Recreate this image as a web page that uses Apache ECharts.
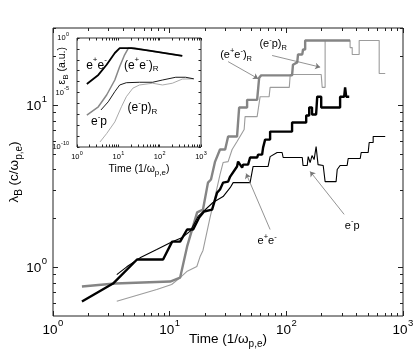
<!DOCTYPE html>
<html>
<head>
<meta charset="utf-8">
<script src="https://cdn.jsdelivr.net/npm/echarts@6/dist/echarts.min.js"></script>
<style>
  html, body { margin: 0; padding: 0; background: #fff; }
  #main { width: 415px; height: 355px; }
</style>
</head>
<body>
<div id="main"></div>
<script>
const F = "'Liberation Sans', Arial, Helvetica, sans-serif";

// main panel: lambda_B (c/w_pe) against time (1/w_pe)
const eeMain = [[1.77,0.614],[3.27,0.793],[5.25,1.116],[8.78,1.116],[10.5,1.44],[12.3,1.44],[14.1,1.71],[15.9,1.71],[17.9,2.03],[19.7,2.21],[23.1,2.27],[25.5,2.89],[27.0,3.02],[28.7,3.33],[31.7,3.38],[33.0,3.63],[37.8,4.19],[38.6,4.49],[41.8,4.12],[42.6,4.30],[47.0,4.30],[48.9,4.76],[56.2,4.76],[57.3,4.96],[62.0,4.96],[63.2,5.48],[65.8,6.14],[72.6,6.14],[72.6,6.88],[112,6.88],[112,7.82],[148,7.82],[148,8.64],[157,8.64],[157,9.68],[166,9.68],[166,8.77],[180,8.77],[184,11.3],[199,11.3],[199,9.68],[289,9.68],[289,11.3],[313,11.3],[319,12.9],[326,11.3],[346,11.3]];
const epMain = [[3.52,0.901],[4.29,1.006],[5.57,1.143],[7.75,1.285],[10.4,1.43],[12.7,1.52],[15.0,1.67],[17.5,2.06],[23.5,2.51],[28.7,2.73],[33.0,3.10],[35.0,3.33],[48.9,3.33],[51.9,4.19],[69.8,4.19],[72.6,4.82],[83.4,5.11],[92.0,5.11],[93.9,4.76],[137,4.76],[139,4.25],[151,4.25],[154,4.82],[160,4.43],[166,4.89],[173,4.62],[180,5.56],[187,4.30],[207,4.25],[215,3.38],[267,3.38],[273,4.01],[289,4.25],[332,4.25],[339,4.69],[430,4.69],[438,5.11],[503,5.11],[513,5.89],[555,5.89],[555,6.41],[704,6.41]];
const eeRMain = [[1.77,0.760],[3.40,0.793],[10.1,0.816],[12.3,0.863],[14.1,1.34],[17.2,2.18],[19.3,2.27],[21.3,3.33],[22.6,3.48],[24.5,4.49],[27.0,5.33],[29.9,5.33],[31.7,6.41],[37.8,6.41],[39.4,9.68],[46.1,9.68],[46.1,10.8],[56.2,10.8],[58.5,14.8],[60.8,15.3],[112,15.3],[114,17.8],[124,18.4],[126,20.6],[137,20.6],[139,22.1],[145,22.1],[145,25.1],[352,25.1]];
const epRMain = [[3.52,0.617],[7.75,0.728],[10.4,0.782],[12.3,0.863],[14.0,0.940],[17.1,1.01],[18.2,1.16],[19.3,1.27],[22.2,2.03],[24.5,2.73],[27.0,3.73],[28.7,4.43],[31.7,4.49],[34.3,5.33],[37.8,5.97],[43.5,7.08],[44.3,8.51],[56.2,8.51],[59.6,11.3],[71.2,11.3],[72.6,12.9],[106,12.9],[108,15.5],[199,15.5],[203,12.9],[215,12.9],[215,25.1],[352,25.1],[352,22.7],[367,22.7],[367,20.6],[421,20.6],[421,25.1],[625,25.1],[625,15.7],[704,15.7]];

// inset: epsilon_B (a.u.) against time
const eeInset = [[1.73,6.0e-5],[3.28,4.1e-4],[5.21,3.5e-3],[8.22,4.2e-2],[10.8,0.12],[20.6,0.12],[56,0.068],[352,0.0234]];
const eeRInset = [[1.73,8.3e-8],[3.28,4.9e-7],[5.21,5.9e-6],[8.22,1.4e-4],[10.8,2.4e-3],[14.2,2.9e-2],[17.5,0.12],[24.7,0.12],[56,0.068],[352,0.0234]];
const epInset = [[3.80,2.5e-7],[5.69,1.4e-6],[8.22,1.2e-5],[10.8,4.9e-5],[15.6,7.9e-5],[32.5,8.7e-5],[67.5,8.7e-5],[117,1.4e-4],[245,2.5e-4],[424,2.5e-4],[669,1.8e-4]];
const epRInset = [[3.60,2.9e-10],[5.21,1.7e-9],[8.22,2.0e-8],[11.9,4.9e-7],[15.6,4.1e-6],[22.5,2.5e-5],[32.5,4.9e-5],[67.5,7.1e-5],[117,4.9e-5],[203,7.1e-5],[352,1.7e-4],[669,1.8e-4]];

// ticks
const xMajor = [1, 10, 100, 1000];
const xMinor = [2,3,4,5,6,7,8,9,20,30,40,50,60,70,80,90,200,300,400,500,600,700,800,900];
const yMajor = [1, 10];
const yMinor = [0.6,0.7,0.8,0.9,2,3,4,5,6,7,8,9,20,30];
const insetYMajor = [1e-10, 1e-5, 1];
const insetYAll = [1e-10,1e-9,1e-8,1e-7,1e-6,1e-5,1e-4,1e-3,1e-2,1e-1,1];

// annotations (data coordinates)
const mainNotes = [
  ['{a|(e}{u|+}{a|e}{u|-}{a|)}{d|R}', [37.1, 20.6]],
  ['{a|(e}{u|-}{a|p)}{d|R}', [77.1, 24.0]],
  ['{a|e}{u|+}{a|e}{u|-}', [68.4, 1.48]],
  ['{a|e}{u|-}{a|p}', [367, 1.84]]
];
const mainArrows = [
  [[31.7, 18.6], [57.3, 14.6]],
  [[75.5, 20.3], [195, 17.2]],
  [[72.6, 1.71], [45.2, 3.79]],
  [[313, 2.12], [160, 3.90]]
];
const insetNotes = [
  ['{a|e}{u|+}{a|e}{u|-}', [2.97, 4.3e-3]],
  ['{a|(e}{u|+}{a|e}{u|-}{a|)}{d|R}', [35.7, 3.5e-3]],
  ['{a|(e}{u|-}{a|p)}{d|R}', [38.3, 4.6e-7]],
  ['{a|e}{u|-}{a|p}', [3.41, 2.9e-8]]
];
const insetYTitleAt = [1, 2.8e-3];

const pow10 = v => Math.round(Math.log10(v));

const mainTickRich = {
  b: { fontFamily: F, fontSize: 13.5, color: '#000', verticalAlign: 'top', padding: [5, 0, 0, 0] },
  s: { fontFamily: F, fontSize: 9.5, color: '#000', verticalAlign: 'top', padding: [0, 0, 0, 0.5] }
};
const nameRich = {
  t: { fontFamily: F, fontSize: 13.5, color: '#000', verticalAlign: 'top', padding: [1, 0, 0, 0] },
  d: { fontFamily: F, fontSize: 10, color: '#000', verticalAlign: 'top', padding: [8, 0, 0, 0] }
};
const insetTickRich = {
  b: { fontFamily: F, fontSize: 7.5, color: '#000', verticalAlign: 'top', padding: [3, 0, 0, 0] },
  s: { fontFamily: F, fontSize: 5.5, color: '#000', verticalAlign: 'top', padding: [0, 0, 0, 0.3] }
};
const insetNameRich = {
  t: { fontFamily: F, fontSize: 10.5, color: '#000', verticalAlign: 'top', padding: [1, 0, 0, 0] },
  d: { fontFamily: F, fontSize: 8, color: '#000', verticalAlign: 'top', padding: [6, 0, 0, 0] }
};
const noteRich = {
  a: { fontFamily: F, fontSize: 11, fill: '#000', verticalAlign: 'top', padding: [3, 0, 0, 0] },
  u: { fontFamily: F, fontSize: 7.5, fill: '#000', verticalAlign: 'top', padding: [0, 0, 0, 0] },
  d: { fontFamily: F, fontSize: 7.5, fill: '#000', verticalAlign: 'top', padding: [8, 0, 0, 0] }
};
const insetNoteRich = {
  a: { fontFamily: F, fontSize: 12, fill: '#000', verticalAlign: 'top', padding: [3, 0, 0, 0] },
  u: { fontFamily: F, fontSize: 8, fill: '#000', verticalAlign: 'top', padding: [0, 0, 0, 0] },
  d: { fontFamily: F, fontSize: 8, fill: '#000', verticalAlign: 'top', padding: [9, 0, 0, 0] }
};

const tickLine = { color: '#222', width: 1 };

function tickAxis(grid, pos, min, max, ticks, len) {
  return {
    gridIndex: grid, type: 'log', position: pos, min: min, max: max,
    axisLine: { show: false }, splitLine: { show: false },
    axisTick: { inside: true, length: len, customValues: ticks, lineStyle: tickLine },
    axisLabel: { show: false }
  };
}

const chart = echarts.init(document.getElementById('main'));

const option = {
  animation: false,
  textStyle: { fontFamily: F },
  grid: [
    { left: 53, right: 12, top: 28, bottom: 39, containLabel: false, outerBoundsMode: 'none',
      show: true, borderColor: '#222', borderWidth: 1 },
    { left: 77, top: 38, width: 124, height: 109, containLabel: false, outerBoundsMode: 'none',
      show: true, borderColor: '#333', borderWidth: 1, backgroundColor: '#fff' }
  ],
  xAxis: [
    {
      gridIndex: 0, type: 'log', position: 'bottom', min: 1, max: 1000,
      axisLine: { show: false }, splitLine: { show: false },
      axisTick: { inside: true, length: 5, customValues: xMajor, lineStyle: tickLine },
      axisLabel: { customValues: xMajor, margin: 2, formatter: v => '{b|10}{s|' + pow10(v) + '}', rich: mainTickRich },
      name: '{t|Time (1/ω}{d|p,e}{t|)}', nameLocation: 'middle', nameGap: 15, nameMoveOverlap: false,
      nameTextStyle: { rich: nameRich }
    },
    tickAxis(0, 'bottom', 1, 1000, xMinor, 3),
    tickAxis(0, 'top', 1, 1000, xMajor, 5),
    tickAxis(0, 'top', 1, 1000, xMinor, 3),
    {
      gridIndex: 1, type: 'log', position: 'bottom', min: 1, max: 1000,
      axisLine: { show: false }, splitLine: { show: false },
      axisTick: { inside: true, length: 2.5, customValues: xMajor.concat(xMinor), lineStyle: tickLine },
      axisLabel: { customValues: xMajor, margin: 3, formatter: v => '{b|10}{s|' + pow10(v) + '}', rich: insetTickRich },
      name: '{t|Time (1/ω}{d|p,e}{t|)}', nameLocation: 'middle', nameGap: 16, nameMoveOverlap: false,
      nameTextStyle: { rich: insetNameRich }
    },
    tickAxis(1, 'top', 1, 1000, xMajor.concat(xMinor), 2.5)
  ],
  yAxis: [
    {
      gridIndex: 0, type: 'log', position: 'left', min: 0.5, max: 30,
      axisLine: { show: false }, splitLine: { show: false },
      axisTick: { inside: true, length: 5, customValues: yMajor, lineStyle: tickLine },
      axisLabel: { customValues: yMajor, margin: 6, padding: [0, 0, 3, 0], formatter: v => '{b|10}{s|' + pow10(v) + '}', rich: mainTickRich },
      name: '{t|λ}{d|B}{t| (c/ω}{d|p,e}{t|)}', nameLocation: 'middle', nameGap: 29, nameRotate: 90, nameMoveOverlap: false,
      nameTextStyle: { rich: nameRich }
    },
    tickAxis(0, 'left', 0.5, 30, yMinor, 3),
    tickAxis(0, 'right', 0.5, 30, yMajor, 5),
    tickAxis(0, 'right', 0.5, 30, yMinor, 3),
    {
      gridIndex: 1, type: 'log', position: 'left', min: 1e-10, max: 1,
      axisLine: { show: false }, splitLine: { show: false },
      axisTick: { inside: true, length: 2.5, customValues: insetYAll, lineStyle: tickLine },
      axisLabel: { customValues: insetYMajor, margin: 8, padding: [0, 0, 3, 0], formatter: v => '{b|10}{s|' + pow10(v) + '}', rich: insetTickRich }
    },
    tickAxis(1, 'right', 1e-10, 1, insetYAll, 2.5)
  ],
  series: [
    { type: 'line', name: '(e-p)R', data: epRMain, showSymbol: false, lineStyle: { color: '#9c9c9c', width: 1.1 }, z: 3 },
    { type: 'line', name: '(e+e-)R', data: eeRMain, showSymbol: false, lineStyle: { color: '#858585', width: 2.4 }, z: 3 },
    { type: 'line', name: 'e-p', data: epMain, showSymbol: false, lineStyle: { color: '#000', width: 1.1 }, z: 4 },
    { type: 'line', name: 'e+e-', data: eeMain, showSymbol: false, lineStyle: { color: '#000', width: 2.4 }, z: 4 },
    {
      type: 'lines', coordinateSystem: 'cartesian2d', xAxisIndex: 0, yAxisIndex: 0,
      symbol: ['none', 'arrow'], symbolSize: 5,
      lineStyle: { color: '#777', width: 0.8, opacity: 1 },
      data: mainArrows.map(c => ({ coords: c })), z: 5
    },
    { type: 'line', xAxisIndex: 4, yAxisIndex: 4, data: epRInset, showSymbol: false, lineStyle: { color: '#a0a0a0', width: 0.9 }, z: 6 },
    { type: 'line', xAxisIndex: 4, yAxisIndex: 4, data: eeRInset, showSymbol: false, lineStyle: { color: '#888', width: 1.5 }, z: 6 },
    { type: 'line', xAxisIndex: 4, yAxisIndex: 4, data: epInset, showSymbol: false, lineStyle: { color: '#000', width: 0.9 }, z: 7 },
    { type: 'line', xAxisIndex: 4, yAxisIndex: 4, data: eeInset, showSymbol: false, lineStyle: { color: '#000', width: 1.8 }, z: 7 }
  ]
};

chart.setOption(option);

const graphics = [];
mainNotes.forEach(n => {
  const p = chart.convertToPixel({ xAxisIndex: 0, yAxisIndex: 0 }, n[1]);
  graphics.push({ type: 'text', x: p[0], y: p[1], z: 10, style: { text: n[0], rich: noteRich, align: 'center', verticalAlign: 'middle' } });
});
insetNotes.forEach(n => {
  const p = chart.convertToPixel({ xAxisIndex: 4, yAxisIndex: 4 }, n[1]);
  graphics.push({ type: 'text', x: p[0], y: p[1], z: 10, style: { text: n[0], rich: insetNoteRich, align: 'center', verticalAlign: 'middle' } });
});
// inset y-axis title, left of the inset's axis
const yl = chart.convertToPixel({ xAxisIndex: 4, yAxisIndex: 4 }, insetYTitleAt);
graphics.push({
  type: 'text', x: yl[0] - 14, y: yl[1], rotation: Math.PI / 2, z: 10,
  style: {
    text: '{t|ε}{d|B}{t| (a.u.)}', align: 'center', verticalAlign: 'middle',
    rich: {
      t: { fontFamily: F, fontSize: 10.5, fill: '#000', verticalAlign: 'top', padding: [1, 0, 0, 0] },
      d: { fontFamily: F, fontSize: 8, fill: '#000', verticalAlign: 'top', padding: [6, 0, 0, 0] }
    }
  }
});
chart.setOption({ graphic: graphics });
</script>
</body>
</html>
